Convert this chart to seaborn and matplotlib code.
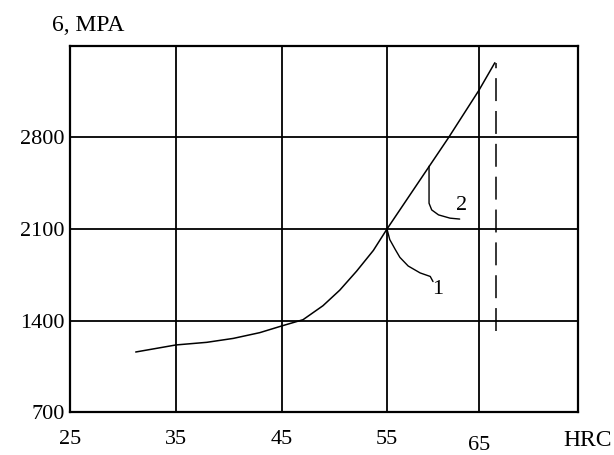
import numpy as np
import pandas as pd
import matplotlib
matplotlib.use("Agg")
import matplotlib.pyplot as plt
import seaborn as sns

# ---- data ----
hrc = [31.2, 35.0, 37.9, 40.4, 42.9, 45.0, 47.0, 48.9, 50.5, 52.1, 53.7, 55.0, 61.7, 65.0, 66.6]
sigma = [1159, 1213, 1233, 1263, 1307, 1359, 1406, 1513, 1632, 1777, 1936, 2100, 2800, 3162, 3372]

limit_hrc = [66.7, 66.7]
limit_sigma = [1322, 3370]

leader1_hrc = [55.0, 55.3, 55.9, 56.4, 57.3, 58.6, 59.7, 60.0]
leader1_sigma = [2100, 2019, 1943, 1883, 1817, 1764, 1737, 1698]
leader2_hrc = [59.57, 59.57, 59.86, 60.6, 61.85, 62.9]
leader2_sigma = [2580, 2297, 2246, 2208, 2183, 2176]
label1 = (60.5, 1634, "1")
label2 = (63.1, 2278, "2")

x_ticks = [25, 35, 45, 55, 65]
x_labels = ["25", "35", "45", "55", "65"]
y_ticks = [700, 1400, 2100, 2800]
y_labels = ["700", "1400", "2100", "2800"]

# hand-drawn (non-uniform) HRC axis: breakpoints of the scale
scale_hrc = [25, 35, 45, 55, 65, 75]
scale_pos = [0, 106, 212, 317, 409, 508]

df = pd.DataFrame({"HRC": hrc, "sigma": sigma})

sns.set_theme(style="white")
plt.rcParams["font.family"] = ["Liberation Serif", "DejaVu Serif"]

fig = plt.figure(figsize=(6.14, 4.55), dpi=100)
ax = fig.add_axes([70 / 614, 43 / 455, 508 / 614, 366 / 455])

ax.set_xscale("function", functions=(
    lambda v: np.interp(np.asarray(v, dtype=float), scale_hrc, scale_pos),
    lambda p: np.interp(np.asarray(p, dtype=float), scale_pos, scale_hrc)))

sns.lineplot(data=df, x="HRC", y="sigma", sort=False, estimator=None,
             color="black", lw=1.1, ax=ax)
ax.plot(limit_hrc, limit_sigma, color="black", lw=1.1, ls=(0, (15, 6.5)))
ax.plot(leader1_hrc, leader1_sigma, color="black", lw=1.0)
ax.plot(leader2_hrc, leader2_sigma, color="black", lw=1.0)
for x, y, t in (label1, label2):
    ax.text(x, y, t, ha="center", va="center", fontsize=16, color="black")

ax.set_xlim(25, 75)
ax.set_ylim(700, 3500)
ax.set_xticks(x_ticks)
ax.set_xticklabels(x_labels)
ax.set_yticks(y_ticks)
ax.set_yticklabels(y_labels)
ax.grid(True, color="black", lw=1.3)
for s in ax.spines.values():
    s.set_color("black")
    s.set_linewidth(1.6)
ax.tick_params(axis="both", length=0, labelsize=16, labelcolor="black")
ax.tick_params(axis="x", pad=13)
ax.tick_params(axis="y", pad=4)
ax.xaxis.get_major_ticks()[4].set_pad(17)

ax.set_xlabel("HRC", fontsize=17, color="black")
ax.xaxis.set_label_coords(1.018, -0.05)
ax.set_ylabel("6, MPA", fontsize=17, color="black", rotation=0,
              ha="center", va="center")
ax.yaxis.set_label_coords(0.035, 1.057)

fig.savefig("out.png", dpi=100)
